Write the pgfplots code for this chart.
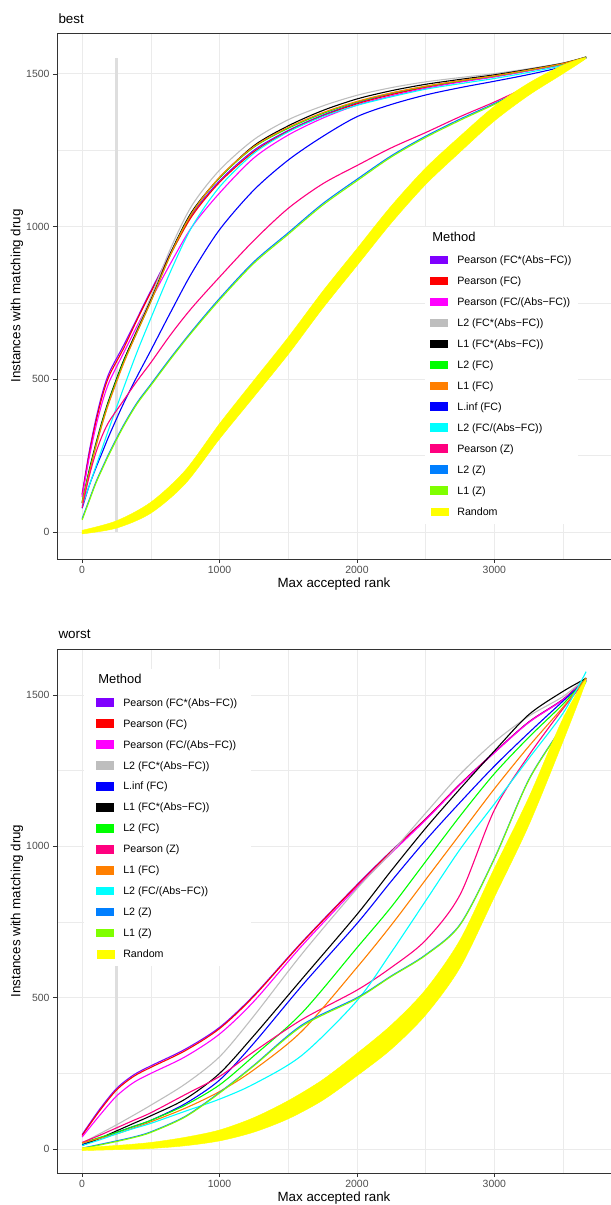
\documentclass[border=0pt]{standalone}
\usepackage{fontspec}
\setmainfont{Liberation Sans}
\usepackage{pgfplots}
\usepackage{pgfplotstable}
\pgfplotsset{compat=1.18}

\definecolor{cPFA}{HTML}{7F00FF}
\definecolor{cPFC}{HTML}{FF0000}
\definecolor{cPFD}{HTML}{FF00FF}
\definecolor{cLTA}{HTML}{BEBEBE}
\definecolor{cLOA}{HTML}{000000}
\definecolor{cLTFC}{HTML}{00FF00}
\definecolor{cLOFC}{HTML}{FF7F00}
\definecolor{cLINF}{HTML}{0000FF}
\definecolor{cLTD}{HTML}{00FFFF}
\definecolor{cPZ}{HTML}{FF007F}
\definecolor{cLTZ}{HTML}{007FFF}
\definecolor{cLOZ}{HTML}{7FFF00}
\definecolor{cRND}{HTML}{FFFF00}
\definecolor{gridc}{HTML}{EBEBEB}
\definecolor{greyA}{HTML}{333333}
\definecolor{greyB}{HTML}{4D4D4D}
\definecolor{barc}{HTML}{DEDEDE}

% top panel ("best")
\pgfplotstableread{
x    pfa  pfc  pfd  lta  loa  ltfc lofc linf ltd  pz   ltz  loz
0    125  120  115  100  95   100  95   78   85   80   44   40
50   260  250  240  195  200  195  190  150  150  180  104  100
100  370  360  345  280  290  285  280  210  215  260  164  160
150  460  450  430  360  370  365  360  265  280  320  214  210
200  525  515  495  430  440  435  430  320  345  365  262  258
300  610  600  585  555  560  555  550  420  470  430  349  345
400  700  695  675  665  660  655  655  510  590  495  424  420
500  790  785  760  770  760  755  755  595  700  555  484  480
650  920  915  885  935  920  915  915  725  860  650  574  570
800  1040 1035 1000 1070 1050 1045 1045 850  1000 735  659  655
1000 1150 1145 1110 1185 1160 1160 1162 990  1130 835  765  760
1250 1250 1245 1225 1285 1265 1260 1262 1120 1240 955  885  880
1500 1315 1312 1300 1350 1330 1322 1325 1218 1310 1060 980  975
1750 1365 1362 1355 1395 1380 1370 1373 1295 1360 1140 1075 1070
2000 1405 1402 1398 1430 1418 1408 1410 1360 1397 1200 1155 1150
2250 1435 1432 1428 1455 1445 1437 1438 1400 1425 1258 1232 1228
2500 1458 1456 1453 1474 1466 1459 1460 1431 1450 1308 1296 1292
2750 1477 1475 1473 1488 1482 1477 1478 1455 1468 1360 1352 1348
3000 1493 1492 1490 1501 1497 1493 1494 1476 1485 1408 1403 1400
3250 1512 1511 1510 1517 1515 1512 1513 1498 1505 1460 1457 1454
3500 1533 1532 1531 1536 1535 1533 1534 1524 1528 1510 1510 1508
3668 1555 1555 1555 1556 1555 1555 1555 1552 1553 1553 1553 1553
}\topdata

% Random band (top): upper edge, then lower edge back
\pgfplotstableread{
x    y
0    6
250  37
500  98
750  202
1000 355
1250 497
1500 638
1750 788
2000 928
2250 1068
2500 1192
2750 1296
3000 1394
3250 1470
3500 1529
3668 1552
3500 1501
3250 1430
3000 1346
2750 1244
2500 1138
2250 1012
2000 872
1750 732
1500 582
1250 443
1000 305
750  158
500  62
250  13
0    -6
}\toprnd

% bottom panel ("worst")
\pgfplotstableread{
x    pfa  pfc  pfd  lta  linf loa  ltfc pz   lofc ltd  ltz  loz
0    48   45   40   20   15   12   20   22   20   12   3    2
125  130  125  110  50   35   35   38   45   35   30   15   13
250  200  195  175  80   55   60   55   70   50   50   27   25
375  245  240  220  112  75   85   75   95   70   68   40   38
500  275  270  250  145  95   110  95   120  90   85   57   55
750  330  325  305  215  150  165  145  180  135  125  108  106
1000 402  398  380  305  228  250  212  240  190  165  187  185
1250 508  505  488  440  350  375  308  322  262  215  277  275
1600 684  682  672  645  540  562  450  428  390  310  410  406
2000 873  871  865  860  745  775  665  525  600  490  500  497
2250 985  983  978  980  885  920  800  600  740  650  572  570
2500 1091 1090 1087 1110 1020 1060 950  690  890  820  642  640
2750 1206 1205 1203 1238 1145 1190 1100 840  1040 990  742  740
3000 1311 1310 1309 1345 1265 1315 1240 1120 1190 1140 960  958
3250 1411 1410 1409 1430 1375 1435 1360 1300 1330 1290 1220 1218
3500 1486 1485 1484 1495 1480 1512 1470 1455 1460 1440 1402 1400
3668 1556 1555 1552 1558 1550 1555 1555 1550 1555 1577 1547 1545
}\botdata

\pgfplotstableread{
x    y
0    5
250  12
500  22
750  39
1000 63
1250 104
1500 160
1750 229
2000 316
2250 410
2500 527
2750 691
3000 928
3250 1161
3500 1423
3668 1550
3500 1347
3250 1069
3000 832
2750 599
2500 443
2250 330
2000 242
1750 161
1500 100
1250 56
1000 27
750  11
500  2
250  -2
0    -5
}\botrnd

\pgfplotsset{
 ln/.style={line width=1.1bp, smooth},
 ggstyle/.style={
  scale only axis, width=554bp,
  xmin=-183, xmax=3849,
  xtick={0,1000,2000,3000}, minor xtick={500,1500,2500,3500},
  ytick={0,500,1000,1500}, minor ytick={250,750,1250},
  grid=both,
  major grid style={gridc, line width=0.9bp},
  minor grid style={gridc, line width=0.5bp},
  axis line style={greyA, line width=0.9bp},
  tick pos=left, tick align=outside,
  major tick length=4bp, minor tick length=0pt,
  major tick style={greyA, line width=0.8bp},
  ticklabel style={font=\fontsize{10.5}{12}\selectfont, text=greyB},
  /pgf/number format/assume math mode=true,
  /pgf/number format/1000 sep={},
  scaled ticks=false,
  legend image code/.code={\fill[##1] (0bp,-3.8bp) rectangle (17bp,3.8bp);},
  legend cell align=left,
  legend style={draw=none, fill=white,
    font=\fontsize{10.7}{12}\selectfont,
    inner ysep=5bp, row sep=6.5bp,
    cells={anchor=west, text height=9bp, text depth=3bp, inner sep=0bp},
    /tikz/every odd column/.append style={column sep=7bp}},
 }
}

\begin{document}
\begin{tikzpicture}

% ---------- best ----------
\begin{axis}[ggstyle, at={(57bp,646bp)}, anchor=south west,
  height=526bp, ymin=-88, ymax=1634,
  legend style={at={(0.6643,0.632)}, anchor=north west, inner xsep=5bp}]
\addlegendimage{empty legend}
\addlegendentry{\hspace*{-25bp}\raisebox{1.5bp}{\fontsize{13}{15}\selectfont Method}}
\addplot[barc, line width=3.5bp, forget plot] coordinates {(250,0) (250,1552)};
\addplot[cPFA, ln] table[x=x, y=pfa]{\topdata}; \addlegendentry{Pearson (FC*(Abs−FC))}
\addplot[cPFC, ln] table[x=x, y=pfc]{\topdata}; \addlegendentry{Pearson (FC)}
\addplot[cPFD, ln] table[x=x, y=pfd]{\topdata}; \addlegendentry{Pearson (FC/(Abs−FC))}
\addplot[cLTA, ln] table[x=x, y=lta]{\topdata}; \addlegendentry{L2 (FC*(Abs−FC))}
\addplot[cLOA, ln] table[x=x, y=loa]{\topdata}; \addlegendentry{L1 (FC*(Abs−FC))}
\addplot[cLTFC, ln] table[x=x, y=ltfc]{\topdata}; \addlegendentry{L2 (FC)}
\addplot[cLOFC, ln] table[x=x, y=lofc]{\topdata}; \addlegendentry{L1 (FC)}
\addplot[cLINF, ln] table[x=x, y=linf]{\topdata}; \addlegendentry{L.inf (FC)}
\addplot[cLTD, ln] table[x=x, y=ltd]{\topdata}; \addlegendentry{L2 (FC/(Abs−FC))}
\addplot[cPZ, ln] table[x=x, y=pz]{\topdata}; \addlegendentry{Pearson (Z)}
\addplot[cLTZ, ln] table[x=x, y=ltz]{\topdata}; \addlegendentry{L2 (Z)}
\addplot[cLOZ, ln] table[x=x, y=loz]{\topdata}; \addlegendentry{L1 (Z)}
\addplot[cRND, fill=cRND, draw=cRND, line width=0.4bp, smooth] table[x=x, y=y]{\toprnd} -- cycle; \addlegendentry{Random}
\end{axis}

% ---------- worst ----------
\begin{axis}[ggstyle, at={(57bp,32bp)}, anchor=south west,
  height=524bp, ymin=-79, ymax=1652,
  legend style={at={(0.0487,0.962)}, anchor=north west, inner xsep=12bp}]
\addlegendimage{empty legend}
\addlegendentry{\hspace*{-25bp}\raisebox{1.5bp}{\fontsize{13}{15}\selectfont Method}}
\addplot[barc, line width=3.5bp, forget plot] coordinates {(250,0) (250,1552)};
\addplot[cPFA, ln] table[x=x, y=pfa]{\botdata}; \addlegendentry{Pearson (FC*(Abs−FC))}
\addplot[cPFC, ln] table[x=x, y=pfc]{\botdata}; \addlegendentry{Pearson (FC)}
\addplot[cPFD, ln] table[x=x, y=pfd]{\botdata}; \addlegendentry{Pearson (FC/(Abs−FC))}
\addplot[cLTA, ln] table[x=x, y=lta]{\botdata}; \addlegendentry{L2 (FC*(Abs−FC))}
\addplot[cLINF, ln] table[x=x, y=linf]{\botdata}; \addlegendentry{L.inf (FC)}
\addplot[cLOA, ln] table[x=x, y=loa]{\botdata}; \addlegendentry{L1 (FC*(Abs−FC))}
\addplot[cLTFC, ln] table[x=x, y=ltfc]{\botdata}; \addlegendentry{L2 (FC)}
\addplot[cPZ, ln] table[x=x, y=pz]{\botdata}; \addlegendentry{Pearson (Z)}
\addplot[cLOFC, ln] table[x=x, y=lofc]{\botdata}; \addlegendentry{L1 (FC)}
\addplot[cLTD, ln] table[x=x, y=ltd]{\botdata}; \addlegendentry{L2 (FC/(Abs−FC))}
\addplot[cLTZ, ln] table[x=x, y=ltz]{\botdata}; \addlegendentry{L2 (Z)}
\addplot[cLOZ, ln] table[x=x, y=loz]{\botdata}; \addlegendentry{L1 (Z)}
\addplot[cRND, fill=cRND, draw=cRND, line width=0.4bp, smooth] table[x=x, y=y]{\botrnd} -- cycle; \addlegendentry{Random}
\end{axis}

\node[anchor=west, font=\fontsize{13.5}{15}\selectfont] at (55bp,1186bp) {best};
\node[anchor=west, font=\fontsize{13.5}{15}\selectfont] at (55bp,571bp) {worst};
\node[font=\fontsize{13.4}{15}\selectfont] at (334bp,621bp) {Max accepted rank};
\node[font=\fontsize{13.4}{15}\selectfont] at (334bp,7bp) {Max accepted rank};
\node[rotate=90, font=\fontsize{13.4}{15}\selectfont] at (17bp,909bp) {Instances with matching drug};
\node[rotate=90, font=\fontsize{13.4}{15}\selectfont] at (17bp,294bp) {Instances with matching drug};

\pgfresetboundingbox
\path[use as bounding box] (0,0) rectangle (611bp,1205bp);
\end{tikzpicture}
\end{document}
